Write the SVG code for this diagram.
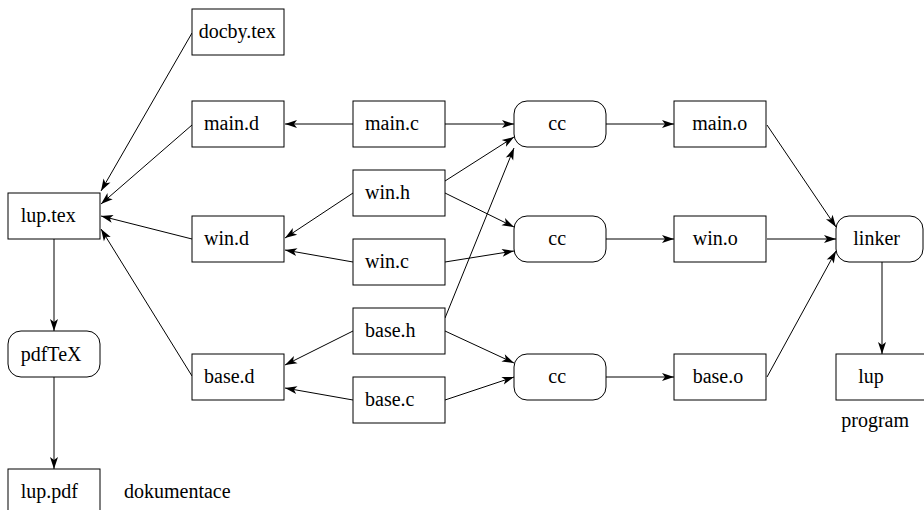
<svg xmlns="http://www.w3.org/2000/svg" width="924" height="510" viewBox="0 0 924 510">
<style>
.box{fill:#fff;stroke:#000;stroke-width:1}
.t{font-family:"Liberation Serif","Times New Roman",serif;font-size:20px;fill:#000}
.c{stroke:#000;stroke-width:1;fill:none;marker-end:url(#ah)}
</style>
<defs>
<marker id="ah" markerUnits="userSpaceOnUse" markerWidth="14" markerHeight="10" viewBox="-13 -5 14 10" refX="0" refY="0" orient="auto">
<path d="M0,0 L-12,-4 L-9,0 L-12,4 Z" fill="#000"/>
</marker>
</defs>
<rect width="924" height="510" fill="#fff"/>
<g id="connectors">
<line class="c" x1="192" y1="33" x2="101" y2="191"/>
<line class="c" x1="192" y1="125" x2="101" y2="204"/>
<line class="c" x1="192" y1="239" x2="101" y2="216"/>
<line class="c" x1="192" y1="376" x2="101" y2="229"/>
<line class="c" x1="353" y1="124" x2="285" y2="124"/>
<line class="c" x1="353" y1="193" x2="285" y2="238"/>
<line class="c" x1="353" y1="262" x2="285" y2="250"/>
<line class="c" x1="353" y1="331" x2="285" y2="365"/>
<line class="c" x1="353" y1="400" x2="285" y2="388"/>
<line class="c" x1="445" y1="124" x2="514" y2="124"/>
<line class="c" x1="445" y1="181" x2="514" y2="137"/>
<line class="c" x1="445" y1="318" x2="514" y2="148"/>
<line class="c" x1="445" y1="193" x2="514" y2="227"/>
<line class="c" x1="445" y1="262" x2="514" y2="251"/>
<line class="c" x1="445" y1="331" x2="514" y2="363"/>
<line class="c" x1="445" y1="400" x2="514" y2="377"/>
<line class="c" x1="606" y1="124" x2="674" y2="124"/>
<line class="c" x1="606" y1="239" x2="674" y2="239"/>
<line class="c" x1="606" y1="377" x2="674" y2="377"/>
<line class="c" x1="767" y1="125" x2="836" y2="227"/>
<line class="c" x1="767" y1="239" x2="836" y2="239"/>
<line class="c" x1="767" y1="377" x2="836" y2="251"/>
<line class="c" x1="882" y1="262" x2="882" y2="354"/>
<line class="c" x1="54" y1="239" x2="54" y2="331"/>
<line class="c" x1="54" y1="377" x2="54" y2="469"/>
</g>
<g id="docby"><rect class="box" x="192" y="9" width="92" height="46"/><text class="t" x="198.7" y="38">docby.tex</text></g>
<g id="maind"><rect class="box" x="192" y="101" width="92" height="46"/><text class="t" x="204" y="130">main.d</text></g>
<g id="luptex"><rect class="box" x="8" y="193" width="92" height="46"/><text class="t" x="20.7" y="222">lup.tex</text></g>
<g id="wind"><rect class="box" x="192" y="216" width="92" height="46"/><text class="t" x="204" y="245">win.d</text></g>
<g id="based"><rect class="box" x="192" y="354" width="92" height="46"/><text class="t" x="204" y="383">base.d</text></g>
<g id="pdftex"><rect class="box" x="8" y="331" width="92" height="46" rx="13" ry="13"/><text class="t" x="20.7" y="361">pdfTeX</text></g>
<g id="luppdf"><rect class="box" x="8" y="469" width="92" height="46"/><text class="t" x="20.7" y="498">lup.pdf</text></g>
<g id="dokumentace"><text class="t" x="124" y="498">dokumentace</text></g>
<g id="mainc"><rect class="box" x="353" y="101" width="92" height="46"/><text class="t" x="365" y="130">main.c</text></g>
<g id="winh"><rect class="box" x="353" y="170" width="92" height="46"/><text class="t" x="365" y="199">win.h</text></g>
<g id="winc"><rect class="box" x="353" y="239" width="92" height="46"/><text class="t" x="365" y="268">win.c</text></g>
<g id="baseh"><rect class="box" x="353" y="308" width="92" height="46"/><text class="t" x="365" y="337">base.h</text></g>
<g id="basec"><rect class="box" x="353" y="377" width="92" height="46"/><text class="t" x="365" y="406">base.c</text></g>
<g id="cc1"><rect class="box" x="514" y="101" width="92" height="46" rx="13" ry="13"/><text class="t" x="548.3" y="130">cc</text></g>
<g id="cc2"><rect class="box" x="514" y="216" width="92" height="46" rx="13" ry="13"/><text class="t" x="548.3" y="245">cc</text></g>
<g id="cc3"><rect class="box" x="514" y="354" width="92" height="46" rx="13" ry="13"/><text class="t" x="548.3" y="383">cc</text></g>
<g id="maino"><rect class="box" x="674" y="101" width="92" height="46"/><text class="t" x="692.3" y="130">main.o</text></g>
<g id="wino"><rect class="box" x="674" y="216" width="92" height="46"/><text class="t" x="692.7" y="245">win.o</text></g>
<g id="baseo"><rect class="box" x="674" y="354" width="92" height="46"/><text class="t" x="692.7" y="383">base.o</text></g>
<g id="linker"><rect class="box" x="836" y="216" width="87" height="46" rx="13" ry="13"/><text class="t" x="853.3" y="245">linker</text></g>
<g id="lup"><rect class="box" x="836" y="354" width="92" height="46"/><text class="t" x="858.3" y="383">lup</text></g>
<g id="program"><text class="t" x="841.3" y="427">program</text></g>
</svg>
